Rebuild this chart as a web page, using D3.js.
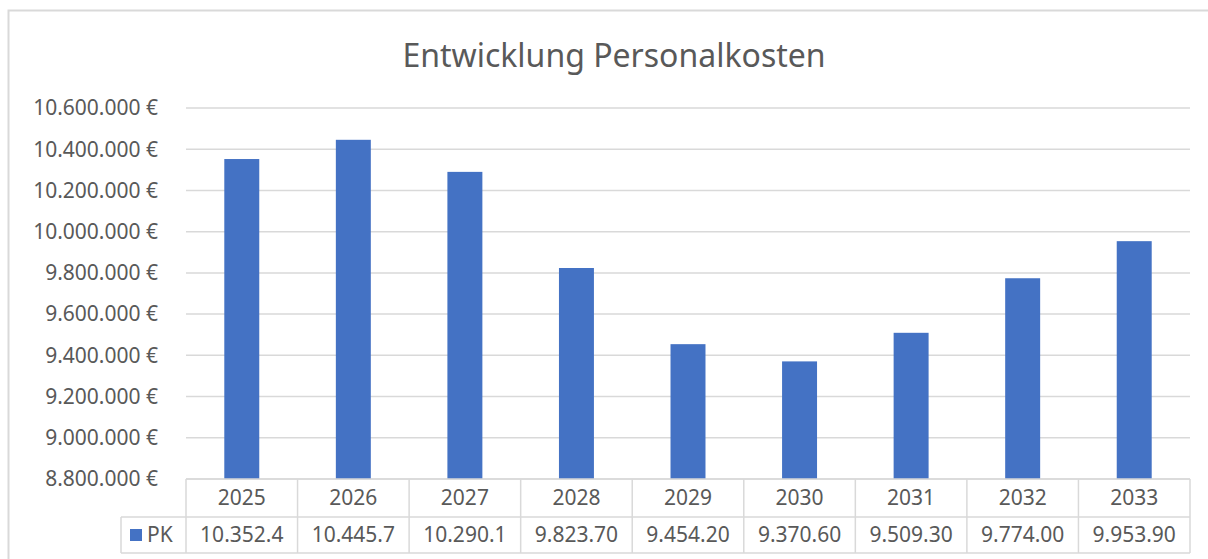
<!DOCTYPE html>
<html>
<head>
<meta charset="utf-8">
<script src="https://cdn.jsdelivr.net/npm/d3@7"></script>
<style>
  body { margin: 0; background: #fff; }
  svg { font-family: "Noto Sans", "Open Sans", sans-serif; }
</style>
</head>
<body>
<svg id="chart" width="1208" height="559"></svg>
<script>
// Data
const years = ["2025", "2026", "2027", "2028", "2029", "2030", "2031", "2032", "2033"];
const pk = [10352400, 10445700, 10290100, 9823700, 9454200, 9370600, 9509300, 9774000, 9953900];
const tableLabels = ["10.352.4", "10.445.7", "10.290.1", "9.823.70", "9.454.20", "9.370.60", "9.509.30", "9.774.00", "9.953.90"];
const yTicks = [8800000, 9000000, 9200000, 9400000, 9600000, 9800000, 10000000, 10200000, 10400000, 10600000];
const seriesName = "PK";
const chartTitle = "Entwicklung Personalkosten";

const textColor = "#595959";
const gridColor = "#d9d9d9";
const barColor = "#4472c4";

const svg = d3.select("#chart");

// outer chart border
svg.append("rect")
    .attr("x", 8.5).attr("y", 10.5)
    .attr("width", 1230).attr("height", 600)
    .attr("fill", "#fff")
    .attr("stroke", gridColor)
    .attr("stroke-width", 2);

// plot area
const plotLeft = 186, plotRight = 1190, plotTop = 108, plotBottom = 479;

const x = d3.scaleBand()
    .domain(years)
    .range([plotLeft, plotRight])
    .paddingInner(0.6865)
    .paddingOuter(0.6865 / 2);

const xCol = d3.scaleBand()
    .domain(years)
    .range([plotLeft, plotRight]);

const y = d3.scaleLinear()
    .domain([8800000, 10600000])
    .range([plotBottom, plotTop]);

// gridlines
svg.append("g")
    .selectAll("line")
    .data(yTicks)
    .enter().append("line")
    .attr("x1", plotLeft).attr("x2", plotRight)
    .attr("y1", d => y(d)).attr("y2", d => y(d))
    .attr("stroke", gridColor)
    .attr("stroke-width", 1.5);

// y axis labels
const fmt = d3.formatLocale({ decimal: ",", thousands: ".", grouping: [3], currency: ["", " €"] }).format(",.0f");
svg.append("g")
    .selectAll("text")
    .data(yTicks)
    .enter().append("text")
    .attr("x", 158)
    .attr("y", d => y(d))
    .attr("dy", "0.35em")
    .attr("text-anchor", "end")
    .attr("fill", textColor)
    .style("font-size", "21px")
    .text(d => fmt(d) + " €");

// bars
svg.append("g")
    .selectAll("rect")
    .data(pk)
    .enter().append("rect")
    .attr("x", (d, i) => x(years[i]))
    .attr("y", d => y(d))
    .attr("width", x.bandwidth())
    .attr("height", d => plotBottom - y(d))
    .attr("fill", barColor);

// title
svg.append("text")
    .attr("x", 614)
    .attr("y", 67)
    .attr("text-anchor", "middle")
    .attr("fill", textColor)
    .style("font-size", "32px")
    .text(chartTitle);

// data table
const row1 = plotBottom, row2 = 517, row3 = 553;
const tableLeft = 121;
const tbl = svg.append("g").attr("stroke", gridColor).attr("stroke-width", 1.5);

// horizontal lines
tbl.append("line").attr("x1", plotLeft).attr("x2", plotRight).attr("y1", row1).attr("y2", row1);
tbl.append("line").attr("x1", tableLeft).attr("x2", plotRight).attr("y1", row2).attr("y2", row2);
tbl.append("line").attr("x1", tableLeft).attr("x2", plotRight).attr("y1", row3).attr("y2", row3);
// vertical lines
tbl.append("line").attr("x1", tableLeft).attr("x2", tableLeft).attr("y1", row2).attr("y2", row3);
tbl.selectAll(".v")
    .data(years.concat(["end"]))
    .enter().append("line")
    .attr("x1", (d, i) => i < years.length ? xCol(d) : plotRight)
    .attr("x2", (d, i) => i < years.length ? xCol(d) : plotRight)
    .attr("y1", row1).attr("y2", row3);

// header years
svg.append("g")
    .selectAll("text")
    .data(years)
    .enter().append("text")
    .attr("x", d => xCol(d) + xCol.bandwidth() / 2)
    .attr("y", (row1 + row2) / 2)
    .attr("dy", "0.35em")
    .attr("text-anchor", "middle")
    .attr("fill", textColor)
    .style("font-size", "21px")
    .text(d => d);

// values
svg.append("g")
    .selectAll("text")
    .data(tableLabels)
    .enter().append("text")
    .attr("x", (d, i) => xCol(years[i]) + xCol.bandwidth() / 2)
    .attr("y", (row2 + row3) / 2)
    .attr("dy", "0.35em")
    .attr("text-anchor", "middle")
    .attr("fill", textColor)
    .style("font-size", "21px")
    .text(d => d);

// legend key in table
svg.append("rect")
    .attr("x", 130).attr("y", (row2 + row3) / 2 - 6)
    .attr("width", 12).attr("height", 12)
    .attr("fill", barColor);
svg.append("text")
    .attr("x", 147)
    .attr("y", (row2 + row3) / 2)
    .attr("dy", "0.35em")
    .attr("fill", textColor)
    .style("font-size", "21px")
    .text(seriesName);
</script>
</body>
</html>
